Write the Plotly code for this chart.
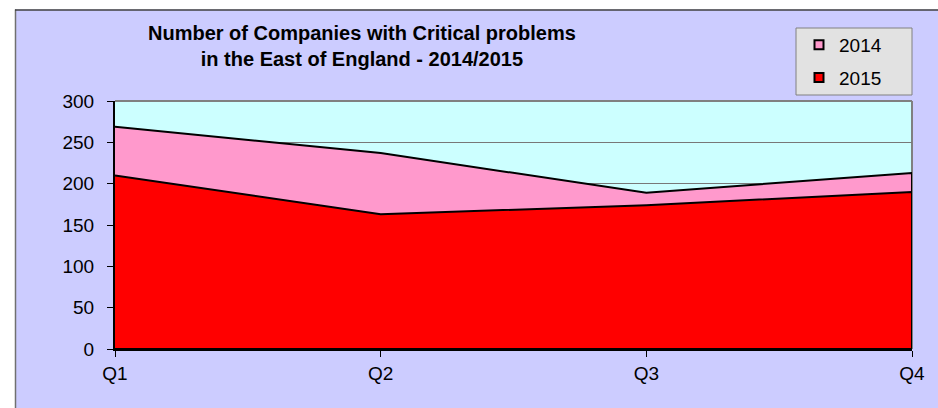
import plotly.graph_objects as go

quarters = ["Q1", "Q2", "Q3", "Q4"]
series_2014 = [269, 237, 189, 213]
series_2015 = [210, 163, 174, 190]
y_ticks = [0, 50, 100, 150, 200, 250, 300]
title_lines = ["Number of Companies with Critical problems",
               "in the East of England - 2014/2015"]

W, H = 938, 408
L, R, T, B = 115, 26, 101, 59
PW, PH = W - L - R, H - T - B

def px_x(p):
    return (p - L) / PW

def px_y(p):
    return (H - B - p) / PH

FONT = "Liberation Sans, Arial, sans-serif"

fig = go.Figure()

def area(name, vals, color, group):
    xs = quarters + [quarters[-1], quarters[0]]
    ys = vals + [0, 0]
    fig.add_trace(go.Scatter(x=xs, y=ys, mode="lines", fill="toself",
                             fillcolor=color, line=dict(color="black", width=2),
                             showlegend=False, hoverinfo="skip"))
    fig.add_trace(go.Scatter(x=[None], y=[None], mode="markers", name=name,
                             legendgroup=group,
                             marker=dict(symbol="square", size=9, color=color,
                                         line=dict(color="black", width=2))))

area("2014", series_2014, "#FF99CC", "a")
area("2015", series_2015, "#FF0000", "b")

fig.update_layout(
    width=W, height=H,
    margin=dict(l=L, r=R, t=T, b=B, pad=0),
    paper_bgcolor="#CCCCFF",
    plot_bgcolor="#CCFFFF",
    font=dict(family=FONT, size=19, color="black"),
    showlegend=True,
    legend=dict(x=px_x(799), y=px_y(26), xanchor="left", yanchor="top",
                bgcolor="rgba(0,0,0,0)", borderwidth=0,
                font=dict(family=FONT, size=19, color="black"),
                tracegroupgap=5, itemwidth=30),
    xaxis=dict(type="category", categoryorder="array", categoryarray=quarters,
               range=[0, len(quarters) - 1], showgrid=False,
               showline=True, linecolor="black", linewidth=2,
               ticks="outside", ticklen=6, tickcolor="black", tickwidth=1,
               ticklabelstandoff=0, zeroline=False,
               tickfont=dict(family=FONT, size=19, color="black")),
    yaxis=dict(range=[0, 300], tickvals=y_ticks, showgrid=True,
               gridcolor="#787878", gridwidth=1,
               showline=True, linecolor="black", linewidth=2,
               ticks="outside", ticklen=6, tickcolor="black", tickwidth=1,
               ticklabelstandoff=9, zeroline=False,
               tickfont=dict(family=FONT, size=19, color="black")),
    shapes=[
        # white strips outside chart frame
        dict(type="rect", xref="paper", yref="paper", x0=px_x(-5), x1=px_x(15),
             y0=px_y(420), y1=px_y(-5), fillcolor="white", line=dict(width=0), layer="above"),
        dict(type="rect", xref="paper", yref="paper", x0=px_x(-5), x1=px_x(945),
             y0=px_y(9.5), y1=px_y(-5), fillcolor="white", line=dict(width=0), layer="above"),
        dict(type="line", xref="paper", yref="paper", x0=px_x(15.5), x1=px_x(15.5),
             y0=px_y(9.5), y1=px_y(410), line=dict(color="#707070", width=1.5), layer="above"),
        dict(type="line", xref="paper", yref="paper", x0=px_x(15), x1=px_x(940),
             y0=px_y(10), y1=px_y(10), line=dict(color="#404040", width=1.5), layer="above"),
        # legend box
        dict(type="rect", xref="paper", yref="paper", x0=px_x(796), x1=px_x(912),
             y0=px_y(95), y1=px_y(28), fillcolor="#E2E2E2",
             line=dict(color="#808080", width=1), layer="above"),
        # plot area border (top / right)
        dict(type="line", xref="paper", yref="paper", x0=0, x1=1, y0=1, y1=1,
             line=dict(color="#808080", width=2), layer="below"),
        dict(type="line", xref="paper", yref="paper", x0=1, x1=1, y0=0, y1=1,
             line=dict(color="#808080", width=2), layer="below"),
    ],
    annotations=[
        dict(text="<b>%s<br>%s</b>" % (title_lines[0], title_lines[1]),
             xref="paper", yref="paper",
             x=px_x(362), y=px_y(46), xanchor="center", yanchor="middle",
             align="center", showarrow=False,
             font=dict(family=FONT, size=20, color="black")),
    ],
)

fig.write_html("out.html", config={"displayModeBar": False},
               post_script="document.body.style.margin='0px';document.body.style.overflow='hidden';")
